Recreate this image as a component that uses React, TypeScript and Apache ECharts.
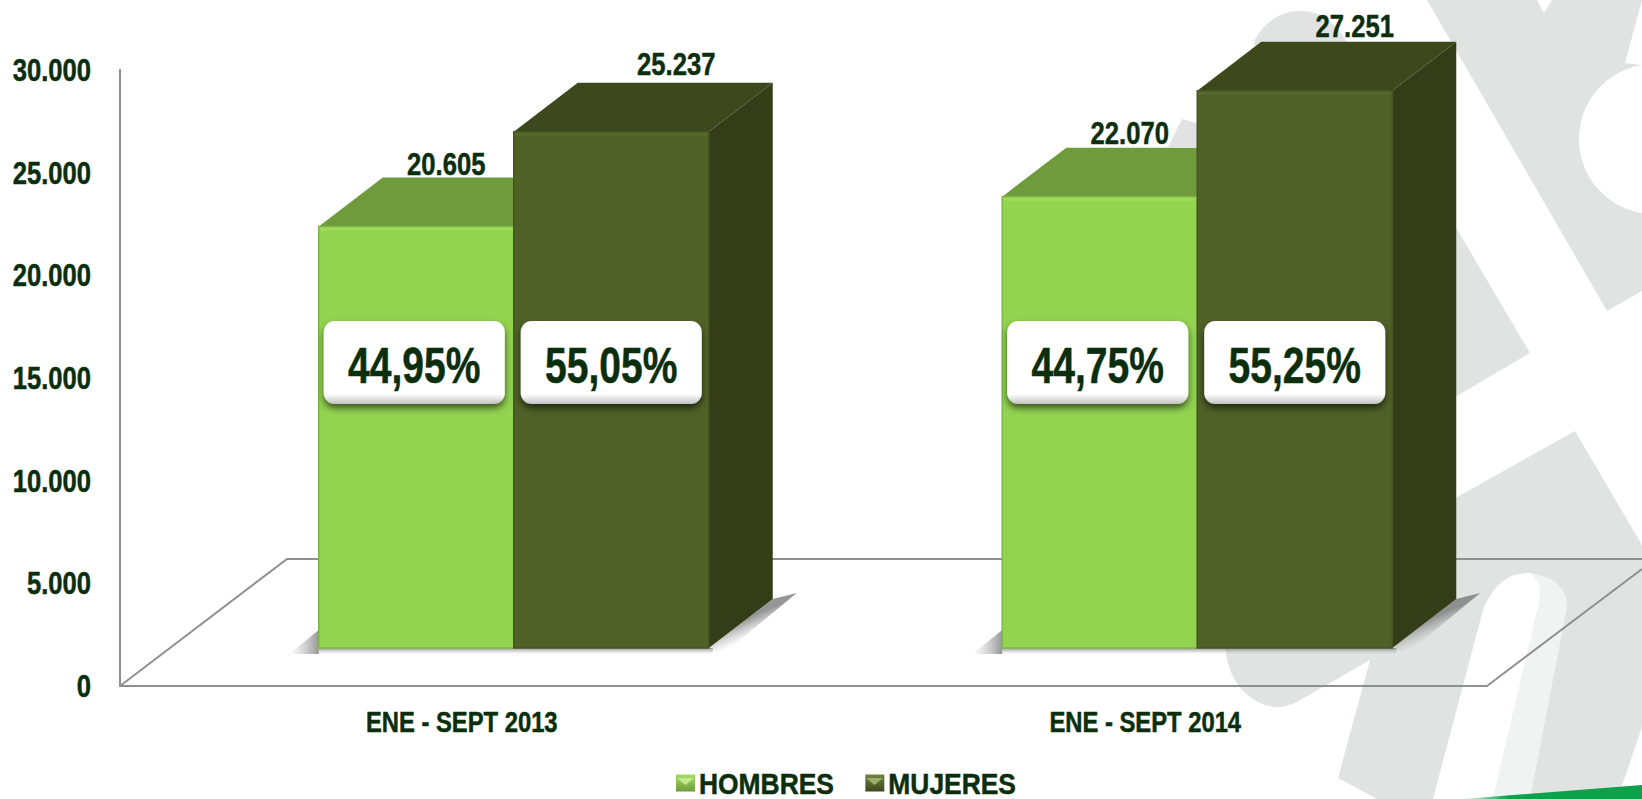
import React, { useEffect, useRef } from "react";
import * as echarts from "echarts";

const categories = ["ENE - SEPT 2013", "ENE - SEPT 2014"];
const seriesNames = ["HOMBRES", "MUJERES"];
const hombres = [20605, 22070];
const mujeres = [25237, 27251];
const hombresShare = ["44,95%", "44,75%"];
const mujeresShare = ["55,05%", "55,25%"];
const axisTicks = [0, 5000, 10000, 15000, 20000, 25000, 30000];

const FONT = '"Liberation Sans", Arial, sans-serif';
const INK = "#0b2e0d";
const GRAY = "#e1e3e3";
const LINE = "#8f8f8f";

const fmt = (v: number) => String(v).replace(/\B(?=(\d{3})+$)/g, ".");

const palette = [
  { front: "#92d350", top: "#6f9b3c", side: "#5f8733", edge: "#7db544", hi: "#9cdc58" },
  { front: "#506127", top: "#3d491d", side: "#333d17", edge: "#465623", hi: "#566a2b" },
];

// bar geometry relative to the category centre on the front floor edge
const BAR_W = 195;
const BAR_LEFT = [-143, 52];
const FLOOR_LIFT = 38;
const PLANE_SCALE = 0.996;
const DEPTH_X = 64;
const DEPTH_Y = 49;
const LABEL_NUDGE = [
  [30, 30],
  [65, 60],
];
const LABEL_LIFT = [
  [14, 15],
  [19, 16],
];
const BOX_Y = 321;
const BOX_H = 83;
const BOX_W = 181;
const BOX_NUDGE = [5, 7];

echarts.graphic.registerShape(
  "bgBandTop",
  echarts.graphic.extendPath(
    "M1427,0 L1537,0 L1544,13 L1552,0 L1642,0 L1625,63 L1642,65 L1642,291 L1607,311 Z",
    {}
  )
);
echarts.graphic.registerShape(
  "bgBlob",
  echarts.graphic.extendPath(
    "M1254,42 C1268,8 1320,-6 1346,41 L1530,353 L1457,396 L1300,300 Z",
    {}
  )
);
echarts.graphic.registerShape(
  "bgPeek",
  echarts.graphic.extendPath("M1168,147 L1182,119 L1200,124 L1200,147 Z", {})
);
echarts.graphic.registerShape(
  "bgMain",
  echarts.graphic.extendPath(
    "M1225,627 L1575,431 L1642,545 L1642,799 L1377,799 L1338,778 L1370,660 L1297,702 Q1273,714 1250,697 Q1222,676 1225,627 Z",
    {}
  )
);
echarts.graphic.registerShape(
  "bgWhiteU",
  echarts.graphic.extendPath(
    "M1433,799 L1483,610 Q1498,572 1530,573 Q1542,580 1540,600 L1493,799 Z",
    {}
  )
);
echarts.graphic.registerShape(
  "bgLight",
  echarts.graphic.extendPath(
    "M1530,573 Q1567,578 1567,607 L1530,799 L1493,799 L1540,600 Q1542,580 1530,573 Z",
    {}
  )
);

const SHADOW = "rgba(115,115,115,0.75)";
const CLEAR = "rgba(170,170,170,0)";

const makeRenderer = (s: number, shares: string[]) => (params: any, api: any) => {
  const cat = api.value(0);
  const val = api.value(1);
  const base = api.coord([cat, 0]);
  const top = api.coord([cat, val]);
  const x0 = base[0] + BAR_LEFT[s];
  const x1 = x0 + BAR_W;
  const y0 = base[1] - FLOOR_LIFT;
  const y1 = y0 - (base[1] - top[1]) * PLANE_SCALE;
  const c = palette[s];
  const children: any[] = [];

  // soft floor shadow
  children.push({
    type: "rect",
    shape: { x: x0, y: y0, width: BAR_W + (s === 0 ? 0 : 4), height: 6 },
    style: {
      fill: new echarts.graphic.LinearGradient(0, 0, 0, 1, [
        { offset: 0, color: SHADOW },
        { offset: 1, color: CLEAR },
      ]),
    },
  });
  if (s === 0) {
    children.push({
      type: "polygon",
      shape: { points: [[x0 - 30, y0 + 6], [x0, y0 - 18], [x0, y0 + 6]] },
      style: {
        fill: new echarts.graphic.LinearGradient(0, 0, 1, 0, [
          { offset: 0, color: CLEAR },
          { offset: 1, color: SHADOW },
        ]),
      },
    });
  } else {
    children.push({
      type: "polygon",
      shape: {
        points: [[x1, y0], [x1 + DEPTH_X, y0 - DEPTH_Y], [x1 + DEPTH_X + 24, y0 - DEPTH_Y - 6], [x1 + 14, y0 + 6]],
      },
      style: {
        fill: new echarts.graphic.LinearGradient(0.36, 0.47, 0.52, 0.72, [
          { offset: 0, color: SHADOW },
          { offset: 1, color: CLEAR },
        ]),
      },
    });
  }

  children.push({
    type: "polygon",
    shape: { points: [[x1, y1], [x1 + DEPTH_X, y1 - DEPTH_Y], [x1 + DEPTH_X, y0 - DEPTH_Y], [x1, y0]] },
    style: { fill: c.side },
  });
  children.push({
    type: "polygon",
    shape: { points: [[x0, y1], [x0 + DEPTH_X, y1 - DEPTH_Y], [x1 + DEPTH_X, y1 - DEPTH_Y], [x1, y1]] },
    style: { fill: c.top },
  });
  children.push({
    type: "rect",
    shape: { x: x0, y: y1, width: BAR_W, height: y0 - y1 },
    style: { fill: c.front, stroke: c.edge, lineWidth: 1.5 },
  });
  children.push({
    type: "rect",
    shape: { x: x0 + 1, y: y1 + 1, width: BAR_W - 2, height: 3 },
    style: { fill: c.hi },
  });

  children.push({
    type: "text",
    x: x0 + BAR_W / 2 + LABEL_NUDGE[s][cat],
    y: y1 - DEPTH_Y - LABEL_LIFT[s][cat],
    style: { text: fmt(val), fill: INK, font: `bold 32px ${FONT}`, align: "center", verticalAlign: "middle" },
  });

  const bx = x0 + BOX_NUDGE[s];
  children.push({
    type: "rect",
    shape: { x: bx, y: BOX_Y, width: BOX_W, height: BOX_H, r: 11 },
    style: {
      fill: new echarts.graphic.LinearGradient(0, 0, 0, 1, [
        { offset: 0, color: "#ffffff" },
        { offset: 0.88, color: "#ffffff" },
        { offset: 1, color: "#c2c2c2" },
      ]),
      shadowBlur: 7,
      shadowOffsetY: 4,
      shadowColor: "rgba(0,0,0,0.6)",
    },
  });
  children.push({
    type: "text",
    x: bx + BOX_W / 2,
    y: BOX_Y + 45,
    style: { text: shares[cat], fill: INK, font: `bold 50px ${FONT}`, align: "center", verticalAlign: "middle" },
  });

  return { type: "group", children };
};

// Narrow bold face of the reference: squeeze each text's glyphs horizontally.
const narrowTexts = (root: HTMLElement) => {
  root.querySelectorAll("text").forEach((t: any) => {
    if (t.getAttribute("textLength")) return;
    const label = t.textContent || "";
    if (!label.trim()) return;
    let ratio = 0.8;
    if (seriesNames.includes(label)) ratio = 0.88;
    else if (categories.includes(label)) ratio = 0.82;
    else if (label.includes("%")) ratio = 0.78;
    t.setAttribute("lengthAdjust", "spacingAndGlyphs");
    t.setAttribute("textLength", String(t.getComputedTextLength() * ratio));
    t.setAttribute("stroke", INK);
    t.setAttribute("stroke-width", "0.5");
  });
};

export default function App() {
  const ref = useRef<HTMLDivElement>(null);
  useEffect(() => {
    const chart = echarts.init(ref.current!, null, { renderer: "svg" });
    const mkSeries = (name: string, values: number[], s: number, shares: string[]) => ({
      name,
      type: "custom",
      coordinateSystem: "cartesian2d",
      encode: { x: 0, y: 1 },
      data: values.map((v, i) => [i, v]),
      itemStyle: { color: palette[s].front },
      renderItem: makeRenderer(s, shares),
      z: 3 + s,
      silent: true,
      clip: false,
    });
    chart.setOption({
      animation: false,
      backgroundColor: "#ffffff",
      grid: { left: 120, top: 70, width: 1367, height: 616, containLabel: false, outerBoundsMode: "none" },
      xAxis: {
        type: "category",
        data: categories,
        axisLine: { show: true, lineStyle: { color: LINE, width: 2 } },
        axisTick: { show: false },
        axisLabel: { color: INK, fontFamily: FONT, fontWeight: "bold", fontSize: 29, margin: 21 },
      },
      yAxis: {
        type: "value",
        min: axisTicks[0],
        max: axisTicks[axisTicks.length - 1],
        interval: axisTicks[1] - axisTicks[0],
        axisLine: { show: true, lineStyle: { color: LINE, width: 2 } },
        axisTick: { show: false },
        splitLine: { show: false },
        axisLabel: { color: INK, fontFamily: FONT, fontWeight: "bold", fontSize: 32, margin: 29, formatter: (v: number) => fmt(v) },
      },
      legend: {
        left: 676,
        top: 768,
        padding: 0,
        itemWidth: 19,
        itemHeight: 17,
        itemGap: 13,
        selectedMode: false,
        icon: "rect",
        textStyle: { color: INK, fontFamily: FONT, fontWeight: "bold", fontSize: 30, padding: [0, 0, 0, -1] },
        data: seriesNames.map((name, s) => ({
          name,
          itemStyle: {
            color: new echarts.graphic.LinearGradient(0, 0, 0, 1, [
              { offset: 0, color: s === 0 ? "#a6dc62" : "#6f8340" },
              { offset: 1, color: s === 0 ? "#6f9b3c" : "#3d491d" },
            ]),
          },
        })),
      },
      graphic: [
        { type: "bgPeek", z: -5, style: { fill: GRAY } },
        { type: "bgBlob", z: -5, style: { fill: GRAY } },
        { type: "bgBandTop", z: -5, style: { fill: GRAY } },
        { type: "circle", z: -4, shape: { cx: 1654, cy: 139, r: 75 }, style: { fill: "#ffffff" } },
        { type: "bgMain", z: -5, style: { fill: GRAY } },
        { type: "bgWhiteU", z: -4, style: { fill: "#ffffff" } },
        { type: "bgLight", z: -4, style: { fill: "#f1f2f2" } },
        { type: "polygon", z: -4, shape: { points: [[1642, 727], [1623, 783], [1613, 799], [1642, 799]] }, style: { fill: "#ffffff" } },
        {
          type: "polygon",
          z: -3,
          shape: { points: [[1463, 799], [1642, 785], [1642, 799]] },
          style: {
            fill: new echarts.graphic.LinearGradient(0, 0, 1, 0, [
              { offset: 0, color: "#e6f6ec" },
              { offset: 0.25, color: "#0ca14b" },
              { offset: 1, color: "#0ca14b" },
            ]),
          },
        },
        { type: "polyline", z: 1, shape: { points: [[120, 686], [287, 559], [1642, 559]] }, style: { fill: "none", stroke: LINE, lineWidth: 2 } },
        { type: "polyline", z: 1, shape: { points: [[1487, 686], [1642, 569]] }, style: { fill: "none", stroke: LINE, lineWidth: 2 } },
        { type: "polygon", z: 10, shape: { points: [[677, 778], [694, 778], [685.5, 785]] }, style: { fill: "#c3ea8e" } },
        { type: "polygon", z: 10, shape: { points: [[866, 778], [883, 778], [874.5, 785]] }, style: { fill: "#9cad6a" } },
      ],
      series: [mkSeries(seriesNames[0], hombres, 0, hombresShare), mkSeries(seriesNames[1], mujeres, 1, mujeresShare)],
    });
    narrowTexts(ref.current!);
    const again = () => narrowTexts(ref.current!);
    chart.on("finished", again);
    return () => chart.dispose();
  }, []);
  return <div ref={ref} style={{ position: "absolute", left: 0, top: 0, width: 1642, height: 799 }} />;
}
